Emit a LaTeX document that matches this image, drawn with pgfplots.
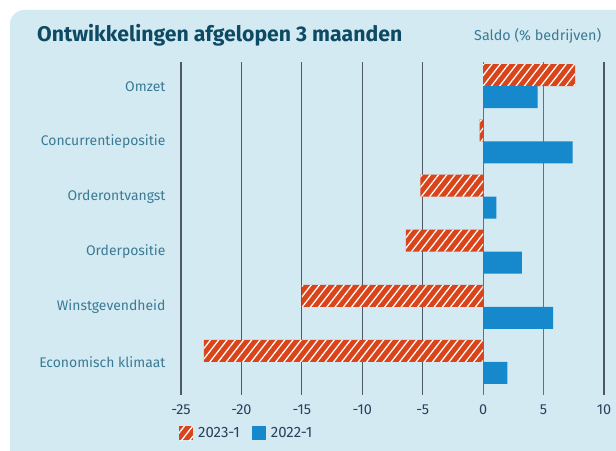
\documentclass[border=0pt]{standalone}
\usepackage{pgfplots}
\pgfplotsset{compat=1.18}
\usetikzlibrary{patterns.meta}
\usepackage{fontspec}
\setmainfont{Fira Sans}
\newfontfamily\titlefont{Fira Sans}
\definecolor{bgpanel}{HTML}{D4EAF2}
\definecolor{orng}{HTML}{D9441A}
\definecolor{blu}{HTML}{1589CB}
\definecolor{titlec}{HTML}{0D4A64}
\definecolor{labc}{HTML}{3A7A95}
\definecolor{tickc}{HTML}{2B3F5C}
\definecolor{gridc}{HTML}{4E5A63}
\definecolor{gridt}{HTML}{3E7F96}
\pgfplotstableread{
y v
5 7.6
4 -0.3
3 -5.2
2 -6.4
1 -15.0
0 -23.1
}\datanew
\pgfplotstableread{
y v
5 4.5
4 7.4
3 1.1
2 3.2
1 5.8
0 2.0
}\dataold
\begin{document}
\begin{tikzpicture}[x=1bp,y=1bp]
\useasboundingbox (0,0) rectangle (616,451);
\clip (0,0) rectangle (616,451);
\fill[white] (0,0) rectangle (616,451);
\fill[bgpanel, rounded corners=14bp] (10,-20) rectangle (640,441);
\node[anchor=base west, inner sep=0, text=titlec, font=\titlefont\bfseries\fontsize{21.3}{24}\selectfont] at (37,409) {Ontwikkelingen afgelopen 3 maanden};
\node[anchor=base west, inner sep=0, text=labc, font=\fontsize{14.4}{16}\selectfont] at (474,410) {Saldo (\% bedrijven)};
\begin{axis}[
  at={(181bp,56bp)}, anchor=south west,
  scale only axis, width=423bp, height=333bp,
  xmin=-25, xmax=10, ymin=-0.6, ymax=5.44,
  xbar, bar width=22bp,
  axis line style={draw=none},
  xtick={-25,-20,...,10},
  ytick={0,1,2,3,4,5},
  yticklabels={Economisch klimaat,Winstgevendheid,Orderpositie,Orderontvangst,Concurrentiepositie,Omzet},
  major tick length=0pt,
  xmajorgrids, grid style={draw=gridc, line width=1.1bp},
  ymajorgrids=false,
  /pgf/number format/assume math mode=true,
  xticklabel style={text=tickc, font=\fontsize{14.5}{16}\selectfont, yshift=-6bp},
  yticklabel style={text=labc, font=\fontsize{14}{16}\selectfont, xshift=-12bp},
  legend style={at={(-0.012,-0.145)}, anchor=south west, draw=none, fill=none,
    legend columns=2, font=\fontsize{15}{17}\selectfont, text=tickc,
    /tikz/every odd column/.append style={column sep=3bp},
    /tikz/every even column/.append style={column sep=10bp}},
  legend image code/.code={\fill[#1] (0bp,-7bp) rectangle (14bp,7bp);},
  clip=false,
]
\draw[gridt, line width=1.1bp] (axis cs:0,-0.6) -- (axis cs:0,5.44);
\draw[gridt, line width=1.1bp] (axis cs:5,-0.6) -- (axis cs:5,5.44);
\addplot[draw=none, fill=orng, bar shift=11bp,
  postaction={pattern={Lines[angle=52,distance=6.5bp,line width=1.3bp]}, pattern color=white}]
  table[x=v, y=y] {\datanew};
\addlegendentry{2023-1}
\addplot[draw=none, fill=blu, bar shift=-11bp] table[x=v, y=y] {\dataold};
\addlegendentry{2022-1}
\end{axis}
\end{tikzpicture}
\end{document}
